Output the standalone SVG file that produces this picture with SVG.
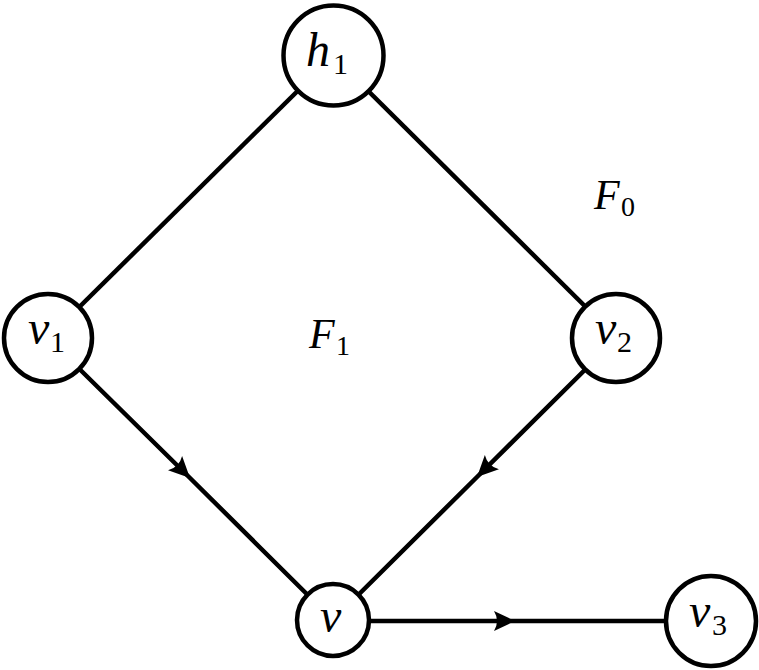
<svg xmlns="http://www.w3.org/2000/svg" width="759" height="670" viewBox="0 0 759 670">
<style>
.edge{stroke:#000;stroke-width:4.5;fill:none}
.node{fill:#fff;stroke:#000;stroke-width:4.5}
.m{font-family:"Liberation Serif",serif;font-style:italic;font-size:48px;fill:#000}
.s{font-family:"Liberation Serif",serif;font-style:normal;font-size:30px;fill:#000}
.f{font-family:"Liberation Serif",serif;font-style:italic;font-size:42px;fill:#000}
.fs{font-family:"Liberation Serif",serif;font-style:normal;font-size:28px;fill:#000}
</style>
<defs>
<marker id="arr" markerUnits="userSpaceOnUse" markerWidth="26" markerHeight="26" viewBox="-24 -13 26 26" refX="0" refY="0" orient="auto">
<path d="M0,0 L-21,-10 Q-15,0 -21,10 Z" fill="#000"/>
</marker>
</defs>
<g id="edges">
<line class="edge" x1="333" y1="56" x2="48" y2="338"/>
<line class="edge" x1="333" y1="56" x2="617" y2="338"/>
<path class="edge" d="M48,338 L190,478 L333,620" marker-mid="url(#arr)"/>
<path class="edge" d="M617,338 L477,477 L333,620" marker-mid="url(#arr)"/>
<path class="edge" d="M333,621 L515,621 L711,621" marker-mid="url(#arr)"/>
</g>
<g id="h1">
<circle class="node" cx="333.5" cy="55.5" r="50"/>
<text class="m" x="306" y="66">h</text><text class="s" x="333" y="74">1</text>
</g>
<g id="v1">
<circle class="node" cx="48" cy="338" r="44"/>
<text class="m" x="28" y="344">v</text><text class="s" x="50" y="352">1</text>
</g>
<g id="v2">
<circle class="node" cx="616" cy="338" r="44"/>
<text class="m" x="595" y="344">v</text><text class="s" x="617" y="352">2</text>
</g>
<g id="v">
<circle class="node" cx="333" cy="620" r="36"/>
<text class="m" x="320" y="632">v</text>
</g>
<g id="v3">
<circle class="node" cx="711" cy="621" r="45"/>
<text class="m" x="689" y="627">v</text><text class="s" x="712" y="635">3</text>
</g>
<text class="f" x="594" y="209">F</text><text class="fs" x="621" y="216">0</text>
<text class="f" x="309" y="348">F</text><text class="fs" x="336" y="355">1</text>
</svg>
